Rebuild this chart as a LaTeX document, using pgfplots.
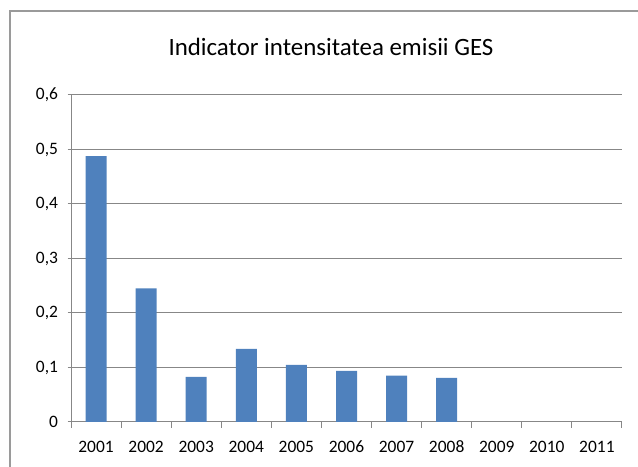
\documentclass[border=0pt]{standalone}
\usepackage{fontspec}
\setmainfont{Carlito}
\usepackage{pgfplots}
\pgfplotsset{compat=1.18}
\definecolor{BarBlue}{HTML}{4F81BD}
\definecolor{GridGray}{HTML}{878787}
\definecolor{FrameGray}{HTML}{9A9A9A}

\begin{document}
\begin{tikzpicture}[x=1bp,y=1bp]
  \useasboundingbox (0,0) rectangle (638,467);
  \draw[FrameGray, line width=2bp] (10,-2) -- (10,456) -- (640,456);
  \node[font=\fontsize{25}{30}\selectfont] at (331,420) {Indicator intensitatea emisii GES};
  \begin{axis}[
    at={(71bp,45bp)}, anchor=south west,
    width=551bp, height=327bp, scale only axis,
    xmin=2000.5, xmax=2011.5,
    ymin=0, ymax=0.6,
    ytick={0,0.1,...,0.6},
    xtick={2001,...,2011},
    xticklabels={2001,2002,2003,2004,2005,2006,2007,2008,2009,2010,2011},
    minor xtick={2000.5,2001.5,...,2011.5},
    major x tick style={draw=none},
    minor tick length=6bp,
    major tick length=7bp,
    tick align=outside,
    tick style={GridGray, line width=1bp},
    axis x line=bottom, axis y line=left,
    axis line style={GridGray, line width=1bp, -},
    ymajorgrids,
    major grid style={GridGray, line width=1bp},
    /pgf/number format/use comma,
    /pgf/number format/fixed,
    /pgf/number format/precision=1,
    /pgf/number format/assume math mode=true,
    tick label style={font=\fontsize{17.5}{21}\selectfont, color=black},
    xticklabel style={yshift=-8bp, text height=12bp, text depth=0bp},
    yticklabel style={xshift=-6bp},
    ybar, bar width=21bp,
  ]
    \addplot[fill=BarBlue, draw=none] coordinates {
      (2001,0.488) (2002,0.245) (2003,0.083) (2004,0.134)
      (2005,0.105) (2006,0.094) (2007,0.085) (2008,0.081)
    };
  \end{axis}
\end{tikzpicture}
\end{document}
